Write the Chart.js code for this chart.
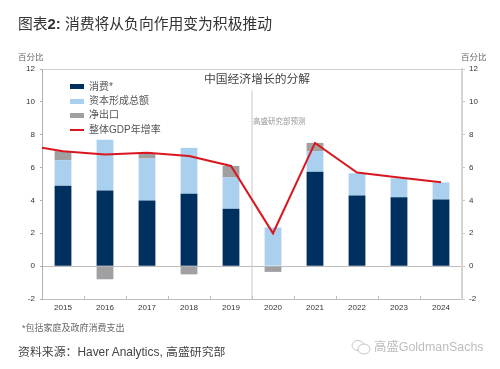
<!DOCTYPE html>
<html lang="zh">
<head>
<meta charset="utf-8">
<title>消费将从负向作用变为积极推动</title>
<script src="https://cdn.jsdelivr.net/npm/chart.js@4/dist/chart.umd.min.js"></script>
<style>
  html,body{margin:0;padding:0;background:#fff;width:500px;height:369px;overflow:hidden;}
  body{position:relative;font-family:"Liberation Sans","Noto Sans CJK SC",sans-serif;}
  #c{position:absolute;left:0;top:0;}
  .t{position:absolute;white-space:nowrap;line-height:1;}
</style>
</head>
<body>
<canvas id="c" width="500" height="369"></canvas>
<div class="t" style="left:18px;top:17px;font-size:14.8px;color:#333;">图表<b>2:</b> 消费将从负向作用变为积极推动</div>
<div class="t" style="left:18px;top:53px;font-size:8.5px;color:#666;">百分比</div>
<div class="t" style="left:461px;top:53px;font-size:8.5px;color:#666;">百分比</div>
<div class="t" style="left:22px;top:324px;font-size:9px;color:#666;">*包括家庭及政府消费支出</div>
<div class="t" style="left:18px;top:347px;font-size:11.9px;color:#444;">资料来源：Haver Analytics, 高盛研究部</div>
<svg class="t" style="left:351px;top:339px;" width="20" height="16" viewBox="0 0 20 16" fill="none" stroke="#c4c4c4" stroke-width="1"><ellipse cx="7" cy="6.5" rx="6" ry="5"/><ellipse cx="13" cy="10" rx="6" ry="5" fill="#fff"/></svg>
<div class="t" style="left:374px;top:341px;font-size:12.4px;color:#bdbdbd;">高盛GoldmanSachs</div>
<script>
const years = ['2015','2016','2017','2018','2019','2020','2021','2022','2023','2024'];
const consumption = [4.9,4.6,4.0,4.4,3.5,0,5.75,4.3,4.2,4.05];
const capitalFormation = [1.55,3.1,2.55,2.8,1.9,2.35,1.25,1.35,1.15,1.05];
const netExports = [0.55,-0.8,0.3,-0.5,0.7,-0.35,0.5,0,0,0];
const gdpPositions = [-0.5,0,1,2,3,4,5,6,7,8,9];
const gdpGrowth = [7.2,7.0,6.8,6.9,6.7,6.1,2.0,7.5,5.7,5.4,5.1];
const forecastStart = 4.5;
const forecastLineRange = [-2,10.7];
const names = ['消费*','资本形成总额','净出口','整体GDP年增率'];
const colors = ['#00305f','#a9d0ee','#a0a0a2','#d8171e'];
const chartTitle = '中国经济增长的分解';
const forecastNote = '高盛研究部预测';
const FONT = '"Liberation Sans","Noto Sans CJK SC",sans-serif';

function swatch(color,h){
  const cv=document.createElement('canvas');cv.width=14;cv.height=h;
  const g=cv.getContext('2d');g.fillStyle=color;g.fillRect(0,0,14,h);return cv;
}
const swatches=[swatch(colors[0],5),swatch(colors[1],5),swatch(colors[2],5),swatch(colors[3],2)];

const placement={
  id:'placement',
  afterLayout(chart){
    const l=chart.legend,a=chart.chartArea;
    l.left=a.left+23.6;
    l.top=a.top+8.5;
    l.bottom=a.bottom;
  },
  afterDraw(chart){
    const g=chart.ctx,x=chart.scales.x2,y=chart.scales.y2;
    g.save();
    g.textBaseline='middle';
    g.textAlign='center';
    g.fillStyle='#444';
    g.font='11.8px '+FONT;
    g.fillText(chartTitle,x.getPixelForValue(4.62),y.getPixelForValue(11.35));
    g.textAlign='left';
    g.fillStyle='#999';
    g.font='7.5px '+FONT;
    g.fillText(forecastNote,x.getPixelForValue(forecastStart)+1,y.getPixelForValue(8.8));
    g.restore();
  }
};

const yBase={min:-2,max:12,ticks:{stepSize:2,color:'#333',font:{size:8,family:FONT}}};
const barStyle={grouped:false,order:2,barPercentage:0.4,categoryPercentage:1};

new Chart(document.getElementById('c'),{
  type:'bar',
  plugins:[placement],
  data:{
    labels:years,
    datasets:[
      {label:names[0],data:consumption,backgroundColor:colors[0],...barStyle},
      {label:names[1],data:capitalFormation,backgroundColor:colors[1],...barStyle},
      {label:names[2],data:netExports,backgroundColor:colors[2],...barStyle},
      {type:'line',label:names[3],data:gdpPositions.map((p,i)=>({x:p,y:gdpGrowth[i]})),xAxisID:'x2',yAxisID:'y2',
       borderColor:colors[3],borderWidth:2,pointRadius:0,tension:0,order:0,clip:false},
      {type:'line',label:'',data:forecastLineRange.map(v=>({x:forecastStart,y:v})),xAxisID:'x2',yAxisID:'y2',
       borderColor:'#c8c8c8',borderWidth:1,pointRadius:0,order:3}
    ]
  },
  options:{
    responsive:false,
    animation:false,
    layout:{padding:{top:69,left:0,right:0,bottom:0}},
    plugins:{
      title:{display:false},
      tooltip:{enabled:false},
      legend:{
        position:'chartArea',
        align:'start',
        labels:{
          usePointStyle:true,
          pointStyleWidth:14,
          padding:4.4,
          color:'#555',
          font:{size:10,family:FONT},
          generateLabels:()=>names.map((n,i)=>({text:n,datasetIndex:i,pointStyle:swatches[i],fillStyle:colors[i],strokeStyle:colors[i],lineWidth:0,fontColor:'#555'}))
        }
      }
    },
    scales:{
      x:{
        type:'category',
        offset:true,
        stacked:true,
        afterFit(s){s.height=70;},
        border:{color:'#bdbdbd',width:1},
        grid:{offset:true,drawOnChartArea:false,tickLength:-3,tickColor:'#bdbdbd'},
        ticks:{color:'#333',font:{size:8,family:FONT},padding:7,maxRotation:0}
      },
      x2:{type:'linear',display:false,offset:false,grid:{offset:false},min:-0.5,max:9.5},
      y:{
        ...yBase,
        stacked:true,
        position:'left',
        afterFit(s){s.width=42;},
        border:{color:'#b0b0b0',width:1},
        grid:{
          color:c=>c.tick.value===0?'#bdbdbd':(c.tick.value===12?'#d0d0d0':'rgba(0,0,0,0)'),
          tickColor:'#b0b0b0',tickLength:2
        },
        ticks:{...yBase.ticks,padding:5}
      },
      y2:{
        ...yBase,
        position:'right',
        afterFit(s){s.width=38;},
        border:{color:'#d4d4d4',width:2},
        grid:{drawOnChartArea:false,tickColor:'#c8c8c8',tickLength:3},
        ticks:{...yBase.ticks,padding:4}
      }
    }
  }
});
</script>
</body>
</html>
